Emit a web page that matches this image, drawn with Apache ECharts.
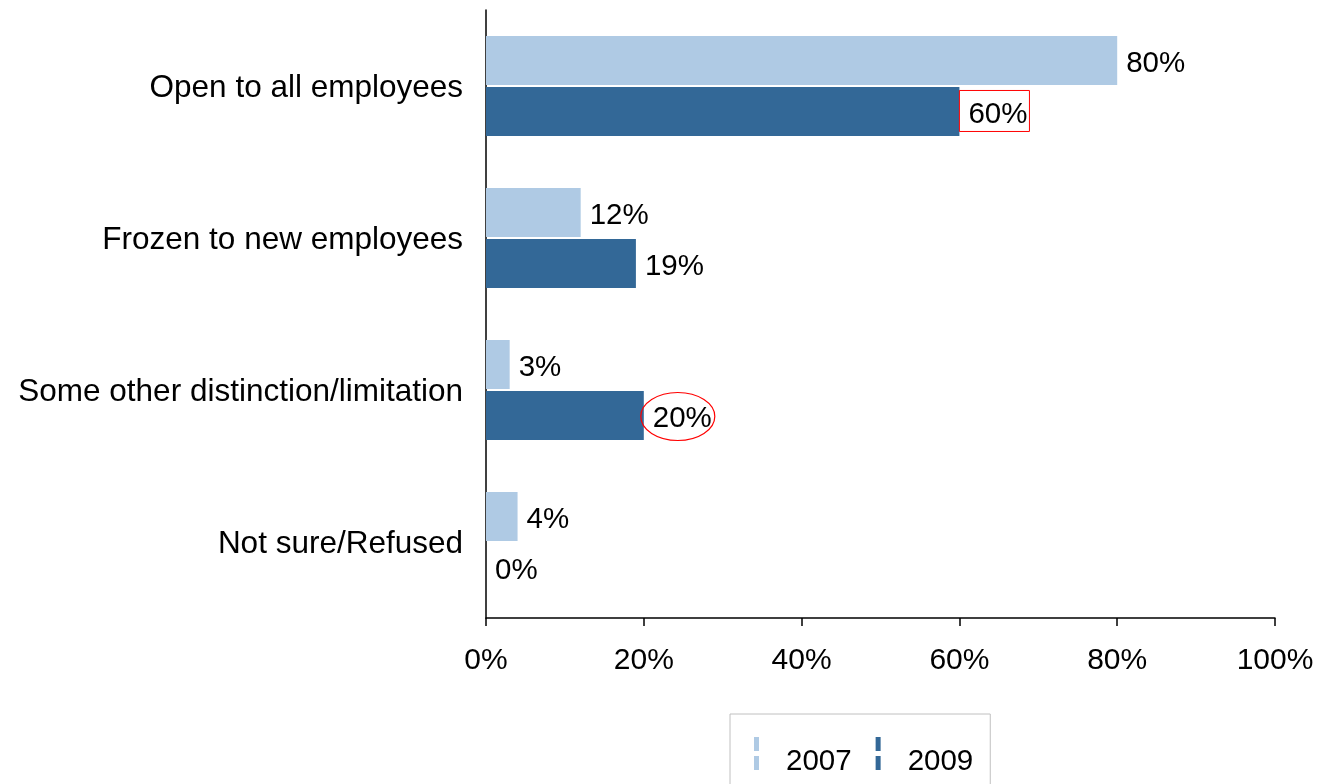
<!DOCTYPE html>
<html>
<head>
<meta charset="utf-8">
<script src="https://cdn.jsdelivr.net/npm/echarts@6/dist/echarts.min.js"></script>
<style>
  html, body { margin: 0; padding: 0; background: #fff; }
  #main { width: 1317px; height: 784px; }
</style>
</head>
<body>
<div id="main"></div>
<script>
var categories = ['Open to all employees', 'Frozen to new employees', 'Some other distinction/limitation', 'Not sure/Refused'];
var values2007 = [80, 12, 3, 4];
var values2009 = [60, 19, 20, 0];
var xTicks = [0, 20, 40, 60, 80, 100];

var font = 'Liberation Sans, Arial, sans-serif';
var catSize = 31.5;
var numSize = 29.5;
var myChart = echarts.init(document.getElementById('main'));

// the 60% label gets a red box, as in the picture
var boxLabel = {
  distance: 0,
  offset: [0, -0.5],
  formatter: '{t|{c}%}',
  rich: { t: { fontFamily: font, fontSize: numSize, color: '#000', padding: [7, 0, 0, 0] } },
  borderColor: '#ff0000',
  borderWidth: 1,
  padding: [2, 2, 2, 9]
};

var legendIcon = 'path://M0,0h5v14h-5z M0,19h5v14h-5z';

var valueLabel = {
  show: true, position: 'right', distance: 9, offset: [0, 3],
  formatter: '{c}%', fontFamily: font, fontSize: numSize, color: '#000'
};

myChart.setOption({
  animation: false,
  grid: { left: 486, right: 42, top: 10, bottom: 166 },
  legend: {
    left: 730,
    top: 714,
    padding: [23, 17, 40, 24],
    borderColor: '#c0c0c0',
    borderWidth: 1,
    itemWidth: 5,
    itemHeight: 33,
    itemGap: 24,
    icon: legendIcon,
    formatter: '{t|{name}}',
    textStyle: {
      fontFamily: font, fontSize: numSize, color: '#000', padding: [0, 0, 0, 22],
      rich: { t: { fontFamily: font, fontSize: numSize, color: '#000', padding: [16, 0, 0, 0] } }
    },
    data: ['2007', '2009']
  },
  xAxis: {
    type: 'value',
    min: xTicks[0],
    max: xTicks[xTicks.length - 1],
    interval: 20,
    splitLine: { show: false },
    axisLine: { show: true, lineStyle: { color: '#000', width: 1.5 } },
    axisTick: { show: true, length: 8, lineStyle: { color: '#000', width: 1.5 } },
    axisLabel: { formatter: '{value}%', fontFamily: font, fontSize: 30, color: '#000', margin: 28 }
  },
  yAxis: {
    type: 'category',
    inverse: true,
    data: categories,
    axisLine: { show: true, lineStyle: { color: '#000', width: 1.5 } },
    axisTick: { show: false },
    axisLabel: {
      formatter: '{c|{value}}',
      margin: 23,
      rich: { c: { fontFamily: font, fontSize: catSize, color: '#000', padding: [5, 0, 0, 0] } }
    }
  },
  series: [
    {
      name: '2007',
      type: 'bar',
      data: values2007,
      barWidth: 49,
      barGap: '4%',
      itemStyle: { color: '#afcae4' },
      label: valueLabel
    },
    {
      name: '2009',
      type: 'bar',
      data: values2009.map(function (v, i) {
        return i === 0 ? { value: v, label: boxLabel } : v;
      }),
      barWidth: 49,
      itemStyle: { color: '#336897' },
      label: valueLabel
    }
  ]
});

// red ellipse round the 20% label of 2009
var lay = myChart.getModel().getSeriesByIndex(1).getData().getItemLayout(2);
myChart.setOption({
  graphic: [{
    type: 'ellipse',
    shape: { cx: lay.x + lay.width + 34, cy: lay.y + lay.height / 2 + 1, rx: 37, ry: 24 },
    style: { fill: 'none', stroke: '#ff0000', lineWidth: 1.2 },
    z: 10
  }]
});
</script>
</body>
</html>
